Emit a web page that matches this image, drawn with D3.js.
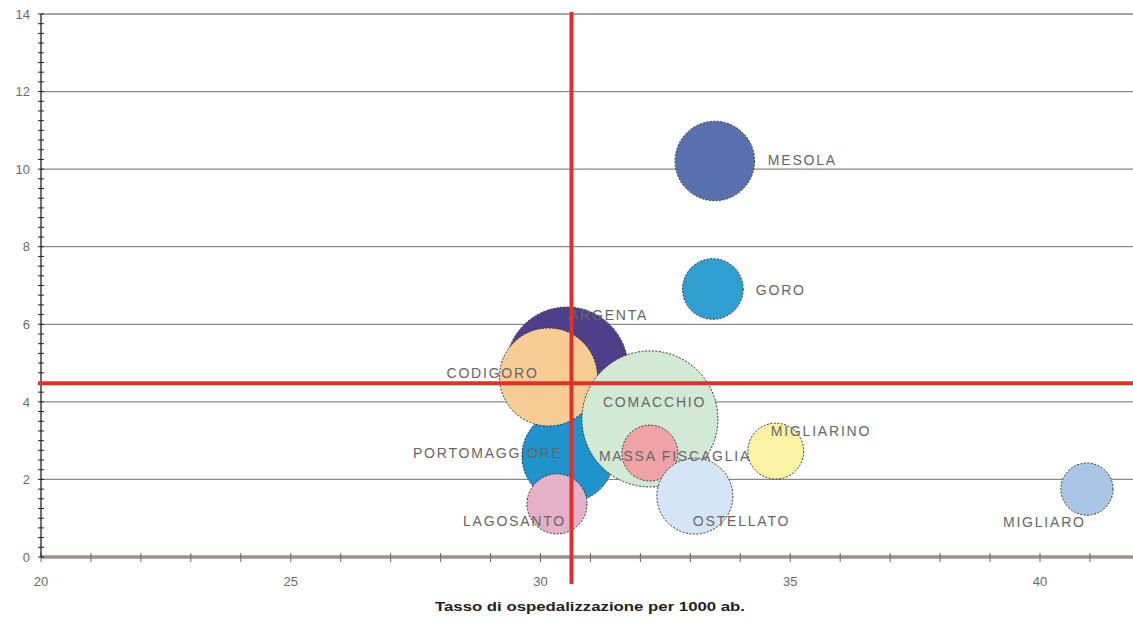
<!DOCTYPE html>
<html>
<head>
<meta charset="utf-8">
<script src="https://cdn.jsdelivr.net/npm/d3@7"></script>
<style>
  html, body { margin: 0; padding: 0; background: #fff; }
  svg { display: block; }
</style>
</head>
<body>
<svg id="chart" width="1133" height="621"></svg>
<script>
// Comuni della provincia di Ferrara: tasso di ospedalizzazione (x), indicatore (y), popolazione (bolla)
const comuni = ["ARGENTA", "PORTOMAGGIORE", "CODIGORO", "LAGOSANTO", "COMACCHIO",
                "MASSA FISCAGLIA", "OSTELLATO", "MESOLA", "GORO", "MIGLIARINO", "MIGLIARO"];
const tassoOsp = [30.53, 30.55, 30.16, 30.33, 32.19, 32.19, 33.09, 33.49, 33.45, 34.71, 40.94];
const indicatore = [4.87, 2.60, 4.64, 1.37, 3.56, 2.68, 1.57, 10.21, 6.91, 2.73, 1.75];
const popolazione = [18600, 10600, 12000, 4500, 23100, 3900, 7200, 7900, 4600, 3900, 3400];

// Medie di riferimento (linee rosse)
const mediaTasso = 30.62;
const mediaIndicatore = 4.48;

const xTicks = [20, 25, 30, 35, 40];
const yTicks = [0, 2, 4, 6, 8, 10, 12, 14];
const xTitle = "Tasso di ospedalizzazione per 1000 ab.";

// Aspetto delle bolle e posizione delle etichette rispetto al centro
const colori = ["#4e3f8a", "#1e93cc", "#f8cc95", "#e6b0c8", "#d2e9d6",
                "#f0a3a6", "#d4e6f6", "#5870ad", "#2e9fd0", "#f9f3a3", "#a9c6e6"];
const labelOffsets = [[2, -53], [-155, -3], [-102, -4], [-94, 17], [-47, -17],
                      [-51, 3], [-2, 25], [53, -1], [43, 1], [-5, -20], [-84, 33]];

(function () {
  const W = 1133;
  const mLeft = 41, mBottom = 557, mTop = 14;
  const svg = d3.select("#chart");

  const x = d3.scaleLinear().domain([20, 40]).range([mLeft, 1040]);
  const y = d3.scaleLinear().domain([0, 14]).range([mBottom, mTop]);
  const r = d3.scaleSqrt().domain([0, d3.max(popolazione)]).range([0, 68]);

  // Griglia orizzontale
  svg.append("g").selectAll("line")
    .data(yTicks.filter(d => d > 0))
    .join("line")
    .attr("x1", mLeft).attr("x2", W)
    .attr("y1", d => y(d)).attr("y2", d => y(d))
    .attr("stroke", "#8e8686").attr("stroke-width", 1.3);

  // Asse X: banda grigia con tacche
  svg.append("line")
    .attr("x1", mLeft).attr("x2", W).attr("y1", mBottom).attr("y2", mBottom)
    .attr("stroke", "#b7aeae").attr("stroke-width", 4);
  svg.append("line")
    .attr("x1", mLeft).attr("x2", W).attr("y1", mBottom).attr("y2", mBottom)
    .attr("stroke", "#7d7474").attr("stroke-width", 1);
  svg.append("g").selectAll("line")
    .data(d3.range(20, 42, 1))
    .join("line")
    .attr("x1", d => x(d)).attr("x2", d => x(d))
    .attr("y1", mBottom - 4).attr("y2", mBottom + 5)
    .attr("stroke", "#6e6666").attr("stroke-width", 1);

  // Asse Y con tacche secondarie
  svg.append("line")
    .attr("x1", mLeft).attr("x2", mLeft).attr("y1", mTop).attr("y2", mBottom)
    .attr("stroke", "#222").attr("stroke-width", 1.3);
  svg.append("g").selectAll("line")
    .data(d3.range(0, 14.01, 0.25))
    .join("line")
    .attr("x1", mLeft - 3).attr("x2", mLeft + 3)
    .attr("y1", d => y(d)).attr("y2", d => y(d))
    .attr("stroke", "#222").attr("stroke-width", 1);

  // Etichette degli assi
  svg.append("g").selectAll("text")
    .data(yTicks)
    .join("text")
    .attr("x", 30).attr("y", d => y(d))
    .attr("dy", "0.36em")
    .attr("text-anchor", "end")
    .attr("font-family", "'Liberation Sans Narrow', 'Liberation Sans', sans-serif")
    .attr("font-size", 13)
    .attr("fill", "#6a6a6a")
    .text(d => d);

  svg.append("g").selectAll("text")
    .data(xTicks)
    .join("text")
    .attr("x", d => x(d)).attr("y", 581)
    .attr("dy", "0.36em")
    .attr("text-anchor", "middle")
    .attr("font-family", "'Liberation Sans Narrow', 'Liberation Sans', sans-serif")
    .attr("font-size", 13)
    .attr("fill", "#6a6a6a")
    .text(d => d);

  svg.append("text")
    .attr("x", 590).attr("y", 606)
    .attr("dy", "0.36em")
    .attr("text-anchor", "middle")
    .attr("font-family", "'Liberation Sans Narrow', 'Liberation Sans', sans-serif")
    .attr("font-weight", "bold")
    .attr("font-size", 13)
    .attr("textLength", 310)
    .attr("lengthAdjust", "spacingAndGlyphs")
    .attr("fill", "#222")
    .text(xTitle);

  // Bolle
  const dati = comuni.map((c, i) => ({
    nome: c, x: tassoOsp[i], y: indicatore[i], pop: popolazione[i],
    colore: colori[i], off: labelOffsets[i]
  }));

  svg.append("g").selectAll("circle")
    .data(dati)
    .join("circle")
    .attr("cx", d => x(d.x)).attr("cy", d => y(d.y))
    .attr("r", d => r(d.pop))
    .attr("fill", d => d.colore)
    .attr("stroke", "#333")
    .attr("stroke-width", 1)
    .attr("stroke-dasharray", "2 1.5");

  // Nomi dei comuni
  svg.append("g").selectAll("text")
    .data(dati)
    .join("text")
    .attr("x", d => x(d.x) + d.off[0])
    .attr("y", d => y(d.y) + d.off[1])
    .attr("dy", "0.36em")
    .attr("font-family", "'Liberation Sans', Arial, sans-serif")
    .attr("font-size", 14)
    .attr("letter-spacing", 1.8)
    .attr("fill", "#666")
    .text(d => d.nome);

  // Linee delle medie
  svg.append("line")
    .attr("x1", 38).attr("x2", W)
    .attr("y1", y(mediaIndicatore)).attr("y2", y(mediaIndicatore))
    .attr("stroke", "#e0302a").attr("stroke-width", 4);
  svg.append("line")
    .attr("x1", x(mediaTasso)).attr("x2", x(mediaTasso))
    .attr("y1", 12).attr("y2", 584)
    .attr("stroke", "#e0302a").attr("stroke-width", 4);
})();
</script>
</body>
</html>
